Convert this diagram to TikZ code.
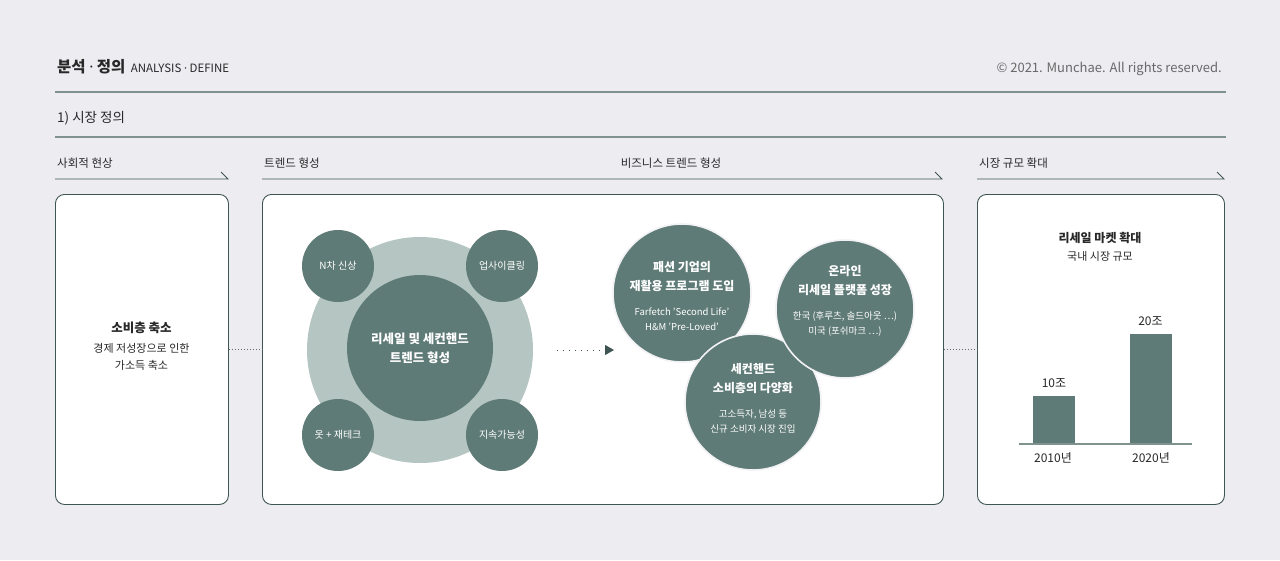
\documentclass[tikz,border=0pt]{standalone}
\usepackage{fontspec}
\setmainfont{Noto Sans CJK KR}
\newfontfamily\dotfont{Noto Sans}
\usetikzlibrary{arrows.meta,positioning}
\definecolor{pagebg}{RGB}{237,236,241}
\definecolor{deepteal}{RGB}{95,123,119}
\definecolor{paleteal}{RGB}{181,197,194}
\definecolor{ruleline}{RGB}{128,146,142}
\definecolor{edgeline}{RGB}{63,85,83}
\definecolor{inktext}{RGB}{40,40,40}
\definecolor{greytext}{RGB}{105,105,105}
\newcommand{\middot}{ {\dotfont ·} }

\begin{document}
\begin{tikzpicture}[x=1pt,y=-1pt,
  every node/.style={font=\fontsize{11}{15}\selectfont,align=center,text=inktext},
  panel/.style={draw=edgeline,line width=0.9pt,fill=white,rounded corners=9pt,anchor=north west,inner sep=0pt},
  bubble/.style={circle,fill=deepteal,inner sep=0pt,text=white},
  overlap/.style={bubble,draw=pagebg!70!white,line width=1.6pt,minimum size=138pt},
  bubbletext/.style={text=white,font=\fontsize{9.5}{15}\selectfont},
  headline/.style={anchor=base west,inner sep=0pt,font=\fontsize{11.5}{14}\selectfont},
  bar/.style={fill=deepteal,anchor=south,minimum width=42pt,inner sep=0pt}]
  \fill[pagebg] (0,0) rectangle (1280,560);

  % header
  \node[anchor=base west,inner sep=0pt,font=\bfseries\fontsize{15.5}{18}\selectfont] (title) at (57,72) {분석\middot 정의};
  \node[right=5pt of title.base east,anchor=base west,inner sep=0pt,font=\fontsize{11.5}{13}\selectfont] (titleen) {ANALYSIS\middot DEFINE};
  \node[anchor=base east,inner sep=0pt,text=greytext,font=\fontsize{13}{15}\selectfont] (rights) at (1222,72) {© 2021. Munchae. All rights reserved.};
  \draw[ruleline,line width=1.4pt] (55,92) -- (1226,92);
  \node[anchor=base west,inner sep=0pt,font=\fontsize{13.5}{16}\selectfont] (section) at (57,122) {1) 시장 정의};
  \draw[ruleline,line width=1.4pt] (55,137) -- (1226,137);

  % stage headings
  \node[headline] (social head) at (57,167) {사회적 현상};
  \node[headline] (trend head) at (264,167) {트렌드 형성};
  \node[headline,anchor=base] (biz head) at (671,167) {비즈니스 트렌드 형성};
  \node[headline] (market head) at (979,167) {시장 규모 확대};
  \draw[edgeline,line width=0.8pt] (55,179) -- (228,179) -- ++(-7,-7);
  \draw[edgeline,line width=0.8pt] (262,179) -- (942,179) -- ++(-7,-7);
  \draw[edgeline,line width=0.8pt] (977,179) -- (1224,179) -- ++(-7,-7);

  % panels
  \node[panel,minimum width=173pt,minimum height=310pt] (social) at (55,194) {};
  \node[panel,minimum width=681pt,minimum height=310pt] (trend) at (262,194) {};
  \node[panel,minimum width=247pt,minimum height=310pt] (market) at (977,194) {};
  \draw[greytext,line width=0.9pt,dash pattern=on 1pt off 2pt] (social.east) -- (trend.west);
  \draw[greytext,line width=0.9pt,dash pattern=on 1pt off 2pt] (trend.east) -- (market.west);

  \node (socialtxt) at (141.5,346) {{\bfseries\fontsize{12.5}{15}\selectfont 소비층 축소}\\[5pt]경제 저성장으로 인한\\[2pt]가소득 축소};

  % trend cluster
  \node[circle,fill=paleteal,minimum size=226pt,inner sep=0pt] (ring) at (420,350) {};
  \node[bubble,minimum size=146pt,font=\bfseries\fontsize{12.5}{19}\selectfont] (core) at (420,348) {리세일 및 세컨핸드\\트렌드 형성};
  \node[bubble,minimum size=72pt,font=\fontsize{10}{12}\selectfont] (nth) at (338,266) {N차 신상};
  \node[bubble,minimum size=72pt,font=\fontsize{10}{12}\selectfont] (upcycle) at (502,266) {업사이클링};
  \node[bubble,minimum size=72pt,font=\fontsize{10}{12}\selectfont] (invest) at (338,435) {옷 + 재테크};
  \node[bubble,minimum size=72pt,font=\fontsize{10}{12}\selectfont] (sustain) at (502,435) {지속가능성};

  \coordinate (flowA) at (557,350);
  \coordinate (flowB) at (614,350);
  \draw[edgeline,line width=1pt,dash pattern=on 1.2pt off 4.8pt,-{Triangle[length=9pt,width=10pt]}] (flowA) -- (flowB);

  % business trends
  \node[overlap] (fashion) at (682,293) {};
  \node[overlap,minimum size=136pt] (secondhand) at (753,402) {};
  \node[overlap] (online) at (845,309) {};
  \node[bubbletext] (fashiontxt) at (682,296) {{\bfseries\fontsize{12}{15}\selectfont 패션 기업의}\\[4pt]{\bfseries\fontsize{12}{15}\selectfont 재활용 프로그램 도입}\\[10pt]Farfetch 'Second Life'\\H\&M 'Pre-Loved'};
  \node[bubbletext] (onlinetxt) at (845,301) {{\bfseries\fontsize{12}{15}\selectfont 온라인}\\[4pt]{\bfseries\fontsize{12}{15}\selectfont 리세일 플랫폼 성장}\\[10pt]한국 (후루츠, 솔드아웃 ⋯)\\미국 (포쉬마크 ⋯)};
  \node[bubbletext] (secondhandtxt) at (753,398) {{\bfseries\fontsize{12}{15}\selectfont 세컨핸드}\\[4pt]{\bfseries\fontsize{12}{15}\selectfont 소비층의 다양화}\\[10pt]고소득자, 남성 등\\신규 소비자 시장 진입};

  % market size
  \node (markettitle) at (1100,247) {{\bfseries\fontsize{12}{15}\selectfont 리세일 마켓 확대}\\[3pt]국내 시장 규모};
  \node[bar,minimum height=48pt] (bar10) at (1054,444) {};
  \node[bar,minimum height=110pt] (bar20) at (1150.5,444) {};
  \draw[ruleline,line width=1.4pt] (1019,444) -- (1192,444);
  \node[above=4pt of bar10,font=\fontsize{12}{14}\selectfont] (val10) {10조};
  \node[above=4pt of bar20,font=\fontsize{12}{14}\selectfont] (val20) {20조};
  \node[font=\fontsize{12}{14}\selectfont] (year10) at (1053,458) {2010년};
  \node[font=\fontsize{12}{14}\selectfont] (year20) at (1151,458) {2020년};
\end{tikzpicture}
\end{document}
